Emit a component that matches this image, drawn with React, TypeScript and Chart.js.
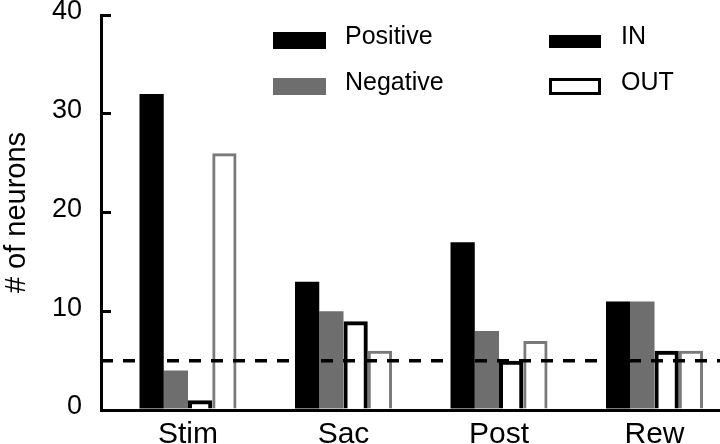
import React, { useEffect, useRef } from "react";
import { Chart, registerables } from "chart.js";

Chart.register(...registerables);

const categories = ["Stim", "Sac", "Post", "Rew"];
const positiveIn = [32, 13, 17, 11];
const negativeIn = [4, 10, 8, 11];
const positiveOut = [1, 9, 5, 6];
const negativeOut = [26, 6, 7, 6];
const thresholdValue = 5;
const yTicks = [0, 10, 20, 30, 40];
const legendFill = [
  { label: "Positive", color: "#000000" },
  { label: "Negative", color: "#6e6e6e" },
];
const legendStyle = [
  { label: "IN", outline: false },
  { label: "OUT", outline: true },
];

const X_MIN = -0.5595;
const X_MAX = 3.421;
const FONT = "'Liberation Sans', Arial, Helvetica, sans-serif";

const legendPlugin = {
  id: "customLegend",
  afterDraw(chart: any) {
    const ctx = chart.ctx;
    ctx.save();
    ctx.font = `25px ${FONT}`;
    ctx.textBaseline = "middle";
    ctx.fillStyle = "#000";
    const rows = [40, 86];
    legendFill.forEach((it, i) => {
      ctx.fillStyle = it.color;
      ctx.fillRect(273, rows[i] - 8, 53, 17);
      ctx.fillStyle = "#000";
      ctx.textAlign = "left";
      ctx.fillText(it.label, 345, rows[i] - 3);
    });
    legendStyle.forEach((it, i) => {
      if (it.outline) {
        ctx.strokeStyle = "#000";
        ctx.lineWidth = 3;
        ctx.strokeRect(550.5, rows[i] - 6.5, 49, 14);
      } else {
        ctx.fillStyle = "#000";
        ctx.fillRect(549, rows[i] - 5, 52, 13);
      }
      ctx.fillStyle = "#000";
      ctx.textAlign = "left";
      ctx.fillText(it.label, 621, rows[i] - 3);
    });
    ctx.restore();
  },
};

export default function App() {
  const ref = useRef<HTMLCanvasElement | null>(null);
  useEffect(() => {
    document.body.style.margin = "0";
    const toPts = (arr: number[]) => arr.map((v, i) => ({ x: i, y: v }));
    const chart = new Chart(ref.current as HTMLCanvasElement, {
      type: "bar",
      data: {
        datasets: [
          {
            type: "line",
            data: [
              { x: X_MIN, y: thresholdValue },
              { x: X_MAX, y: thresholdValue },
            ],
            borderColor: "#000",
            borderWidth: 3.5,
            borderDash: [12, 10],
            pointRadius: 0,
            order: -1,
          } as any,
          {
            label: "Positive IN",
            data: toPts(positiveIn),
            backgroundColor: "#000000",
            borderWidth: 0,
          },
          {
            label: "Negative IN",
            data: toPts(negativeIn),
            backgroundColor: "#6e6e6e",
            borderWidth: 0,
          },
          {
            label: "Positive OUT",
            data: toPts(positiveOut),
            backgroundColor: "rgba(255,255,255,0)",
            borderColor: "#000000",
            borderWidth: 4,
          },
          {
            label: "Negative OUT",
            data: toPts(negativeOut),
            backgroundColor: "rgba(255,255,255,0)",
            borderColor: "#7a7a7a",
            borderWidth: 3,
          },
        ],
      },
      options: {
        animation: false,
        responsive: false,
        maintainAspectRatio: false,
        layout: { padding: { top: 15, right: 0, left: 0, bottom: 0 } },
        datasets: {
          bar: { categoryPercentage: 0.624, barPercentage: 1.0 },
        },
        plugins: {
          legend: { display: false },
          tooltip: { enabled: false },
        },
        scales: {
          x: {
            type: "linear",
            min: X_MIN,
            max: X_MAX,
            offset: false,
            afterBuildTicks: (scale: any) => {
              scale.ticks = categories.map((_, i) => ({ value: i }));
            },
            afterFit: (scale: any) => {
              scale.height = 34;
              scale.paddingLeft = 0;
              scale.paddingRight = 0;
            },
            grid: {
              display: true,
              offset: false,
              drawOnChartArea: false,
              drawTicks: false,
              color: "#000",
            },
            border: { display: true, color: "#000", width: 3 },
            ticks: {
              padding: 7,
              color: "#000",
              font: { family: FONT, size: 30 },
              maxRotation: 0,
              autoSkip: false,
              callback: (v: any) => categories[Math.round(Number(v))] ?? "",
            },
          },
          y: {
            min: 0,
            max: 40,
            afterBuildTicks: (scale: any) => {
              scale.ticks = yTicks.map((v) => ({ value: v }));
            },
            afterFit: (scale: any) => {
              scale.width = 101;
              scale.paddingTop = 0;
              scale.paddingBottom = 0;
            },
            grid: {
              drawOnChartArea: false,
              drawTicks: true,
              tickLength: -10,
              color: "#000",
              lineWidth: 3,
            },
            border: { display: true, color: "#000", width: 3 },
            title: {
              display: true,
              text: "# of neurons",
              color: "#000",
              font: { family: FONT, size: 29 },
              padding: { top: 0, bottom: 0 },
            },
            ticks: {
              padding: 29,
              labelOffset: -3,
              color: "#000",
              font: { family: FONT, size: 27 },
            },
          },
        },
      },
      plugins: [legendPlugin],
    } as any);
    return () => chart.destroy();
  }, []);
  return (
    <div style={{ width: 720, height: 444, overflow: "hidden" }}>
      <canvas ref={ref} width={720} height={444} style={{ display: "block" }} />
    </div>
  );
}
